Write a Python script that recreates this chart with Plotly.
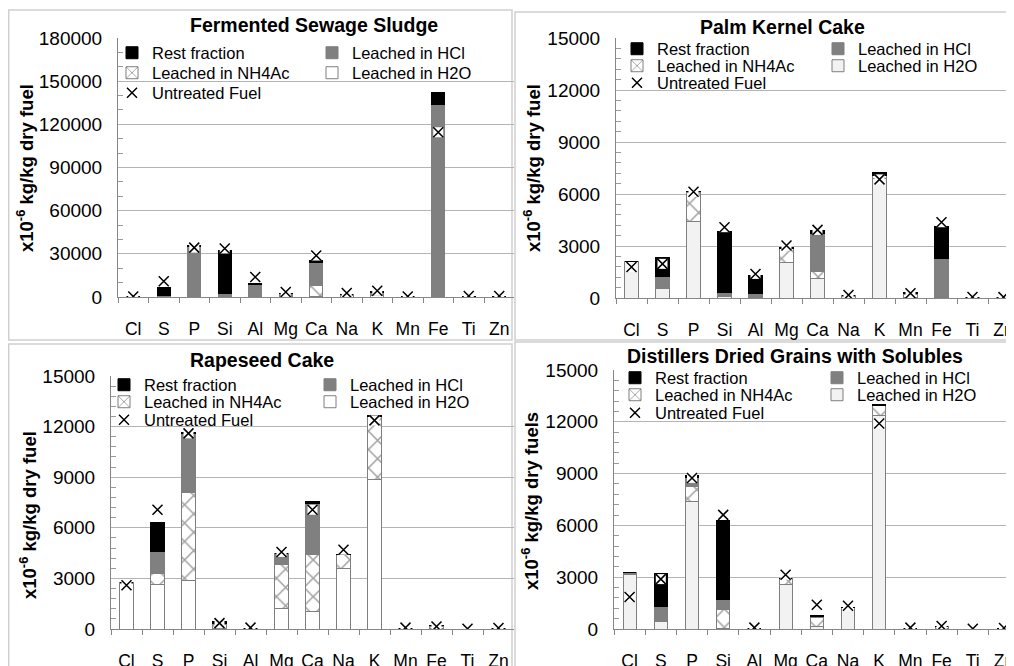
import plotly.graph_objects as go

# ---------------- data ----------------
elements = ["Cl", "S", "P", "Si", "Al", "Mg", "Ca", "Na", "K", "Mn", "Fe", "Ti", "Zn"]

fss_h2o  = [300, 300, 300, 100, 50, 200, 500, 800, 700, 200, 300, 50, 100]
fss_nh4  = [0, 200, 300, 200, 100, 600, 7400, 700, 500, 100, 700, 0, 100]
fss_hcl  = [0, 700, 34400, 2000, 8650, 1300, 16000, 200, 2000, 200, 133000, 50, 200]
fss_rest = [0, 5400, 1000, 30200, 500, 300, 1150, 0, 300, 0, 8000, 100, 100]
fss_untr = [400, 10900, 34300, 33700, 13900, 3500, 28800, 2800, 4300, 400, 114500, 700, 700]

pkc_h2o  = [2080, 520, 4400, 60, 20, 2060, 1100, 80, 6900, 50, 30, 20, 20]
pkc_nh4  = [20, 60, 1700, 80, 20, 780, 420, 40, 150, 150, 30, 0, 0]
pkc_hcl  = [0, 650, 30, 150, 230, 40, 2200, 20, 30, 80, 2230, 10, 10]
pkc_rest = [0, 1080, 20, 3550, 1020, 20, 170, 0, 170, 20, 1835, 0, 0]
pkc_untr = [1790, 1970, 6130, 4085, 1390, 3025, 3930, 170, 6845, 270, 4370, 60, 50]

rsc_h2o  = [2700, 2610, 2900, 30, 20, 1245, 1045, 3560, 8840, 20, 50, 0, 20]
rsc_nh4  = [50, 710, 5220, 250, 10, 2555, 3365, 830, 3750, 20, 100, 0, 10]
rsc_hcl  = [0, 1250, 3500, 60, 0, 700, 3060, 0, 30, 10, 40, 0, 10]
rsc_rest = [0, 1720, 50, 110, 0, 0, 60, 40, 30, 0, 10, 0, 0]
rsc_untr = [2590, 7070, 11600, 350, 80, 4570, 7070, 4700, 12370, 80, 150, 10, 60]

ddgs_h2o  = [3140, 460, 7380, 50, 20, 2560, 150, 1250, 12340, 20, 50, 0, 20]
ddgs_nh4  = [60, 60, 870, 1100, 10, 350, 520, 20, 600, 20, 80, 0, 10]
ddgs_hcl  = [70, 790, 550, 580, 0, 40, 30, 0, 30, 10, 20, 0, 10]
ddgs_rest = [0, 1930, 100, 4530, 0, 0, 90, 0, 20, 0, 0, 0, 0]
ddgs_untr = [1850, 2890, 8750, 6610, 80, 3140, 1400, 1350, 11900, 80, 170, 10, 60]

titles = ["Fermented Sewage Sludge", "Palm Kernel Cake", "Rapeseed Cake",
          "Distillers Dried Grains with Solubles"]
ytitles = ["x10<sup>-6</sup> kg/kg dry fuel", "x10<sup>-6</sup> kg/kg dry fuel",
           "x10<sup>-6</sup> kg/kg dry fuel", "x10<sup>-6</sup> kg/kg dry fuels"]
series_names = ["Leached in H2O", "Leached in NH4Ac", "Leached in HCl", "Rest fraction"]
marker_name = "Untreated Fuel"

# ---------------- layout helpers ----------------
OFF = 8                      # page body margin of the HTML page
W, H = 1014 - OFF, 666 - OFF
FONT = "Liberation Sans, Arial, sans-serif"


def fx(p):
    return (p - OFF) / W


def fy(p):
    return 1 - (p - OFF) / H


panels = [
    dict(data=[fss_h2o, fss_nh4, fss_hcl, fss_rest], untr=fss_untr, h2o="#ffffff",
         xd=(118, 514), spacing=30.5, yd=(38, 297), ymax=180000, dtick=30000, minor=10000,
         title=(314, 25), ytit=(25, 168),
         leg=dict(rows=(53, 73, 93), left=152, right=352)),
    dict(data=[pkc_h2o, pkc_nh4, pkc_hcl, pkc_rest], untr=pkc_untr, h2o="#f2f2f2",
         xd=(616, 1014), spacing=31.0, yd=(38, 298), ymax=15000, dtick=3000, minor=600,
         title=(782, 27), ytit=(532, 168),
         leg=dict(rows=(49, 66, 83), left=657, right=858)),
    dict(data=[rsc_h2o, rsc_nh4, rsc_hcl, rsc_rest], untr=rsc_untr, h2o="#ffffff",
         xd=(111, 514), spacing=31.0, yd=(376, 629), ymax=15000, dtick=3000, minor=600,
         title=(262, 360), ytit=(28, 515),
         leg=dict(rows=(385, 402, 420), left=144, right=350)),
    dict(data=[ddgs_h2o, ddgs_nh4, ddgs_hcl, ddgs_rest], untr=ddgs_untr, h2o="#f2f2f2",
         xd=(614, 1014), spacing=31.2, yd=(370, 629), ymax=15000, dtick=3000, minor=600,
         title=(795, 356), ytit=(530, 501),
         leg=dict(rows=(378, 395, 413), left=655, right=857)),
]

fig = go.Figure()
layout = dict(
    width=W, height=H, margin=dict(l=0, r=0, t=0, b=0, autoexpand=False),
    paper_bgcolor="white", plot_bgcolor="white",
    barmode="stack", showlegend=True,
    font=dict(family=FONT, color="black"),
)
annotations = []
shapes = []
legend_count = 0
TEXT_OFF = 40  # legend text offset from legend box x

for i, p in enumerate(panels):
    n = i + 1
    xa = "x" if n == 1 else f"x{n}"
    ya = "y" if n == 1 else f"y{n}"
    colors = [p["h2o"], "#ffffff", "#808080", "#000000"]
    legpos = {"Rest fraction": ("left", 0), "Leached in NH4Ac": ("left", 1),
              "Untreated Fuel": ("left", 2), "Leached in HCl": ("right", 0),
              "Leached in H2O": ("right", 1)}
    legnames = {}
    for nm, (col, row) in legpos.items():
        legend_count += 1
        key = "legend" if legend_count == 1 else f"legend{legend_count}"
        legnames[nm] = key
        layout[key] = dict(
            x=fx(p["leg"][col] - TEXT_OFF), y=fy(p["leg"]["rows"][row]),
            xanchor="left", yanchor="middle", bgcolor="rgba(0,0,0,0)",
            font=dict(family=FONT, size=16.5, color="black"),
            itemwidth=30, borderwidth=0, tracegroupgap=0,
        )
    for k in range(4):
        mk = dict(color=colors[k], line=dict(color="#7f7f7f" if k < 3 else "#000000", width=1))
        if k == 1:
            mk["pattern"] = dict(shape="x", fgcolor="#404040", bgcolor="#ffffff",
                                 size=13, solidity=0.22)
        fig.add_trace(go.Bar(
            x=elements, y=p["data"][k], name=series_names[k], xaxis=xa, yaxis=ya,
            width=0.42, marker=mk, legend=legnames[series_names[k]],
            hoverinfo="x+y+name",
        ))
    fig.add_trace(go.Scatter(
        x=elements, y=p["untr"], mode="markers", xaxis=xa, yaxis=ya, showlegend=False,
        marker=dict(symbol="square", size=10, color="white", line=dict(width=0)),
        hoverinfo="skip",
    ))
    fig.add_trace(go.Scatter(
        x=elements, y=p["untr"], mode="markers", xaxis=xa, yaxis=ya, name=marker_name,
        legend=legnames[marker_name],
        marker=dict(symbol="x-thin", size=10, color="black", line=dict(width=1.5, color="black")),
    ))

    x0, x1 = p["xd"]
    xr_end = -0.5 + (x1 - x0) / p["spacing"]
    layout["xaxis" if n == 1 else f"xaxis{n}"] = dict(
        domain=[max(0, fx(x0)), min(1, fx(x1))], anchor=ya, type="category",
        range=[-0.5, xr_end], tickson="boundaries", ticks="outside", ticklen=5,
        tickcolor="#868686", showline=True, linecolor="#868686", linewidth=1,
        showgrid=False, tickfont=dict(family=FONT, size=17.5, color="black"),
        tickangle=0, ticklabelstandoff=16, fixedrange=True,
    )
    yt, yb = p["yd"]
    layout["yaxis" if n == 1 else f"yaxis{n}"] = dict(
        domain=[max(0, fy(yb)), min(1, fy(yt))], anchor=xa, range=[0, p["ymax"]],
        dtick=p["dtick"],
        tickformat="d", showline=True, linecolor="#868686", linewidth=1,
        showgrid=True, gridcolor="#b4b4b4", gridwidth=1, zeroline=False, ticks="",
        ticklabelstandoff=11, tickfont=dict(family=FONT, size=19, color="black"),
        minor=dict(dtick=p["minor"], ticks="inside", ticklen=5, tickcolor="#9a9a9a",
                   showgrid=False),
        fixedrange=True,
    )
    annotations.append(dict(
        text=f"<b>{titles[i]}</b>", x=fx(p["title"][0]), y=fy(p["title"][1]),
        xref="paper", yref="paper", xanchor="center", yanchor="middle", showarrow=False,
        font=dict(family=FONT, size=19.5, color="black"),
    ))
    annotations.append(dict(
        text=f"<b>{ytitles[i]}</b>", x=fx(p["ytit"][0]), y=fy(p["ytit"][1]),
        xref="paper", yref="paper", xanchor="center", yanchor="middle", showarrow=False,
        textangle=-90, font=dict(family=FONT, size=18.5, color="black"),
    ))

frames = [(8.7, 10, 512, 340), (515, 12, 1030, 340), (8.7, 344, 512, 690), (515, 342, 1030, 690)]
for (a, b, c, d) in frames:
    shapes.append(dict(type="rect", xref="paper", yref="paper", x0=fx(a), x1=fx(c),
                       y0=fy(d), y1=fy(b), line=dict(color="#cfcfcf", width=1.5),
                       fillcolor="rgba(0,0,0,0)", layer="below"))

layout["annotations"] = annotations
layout["shapes"] = shapes
fig.update_layout(**layout)
fig.write_html("out.html")
